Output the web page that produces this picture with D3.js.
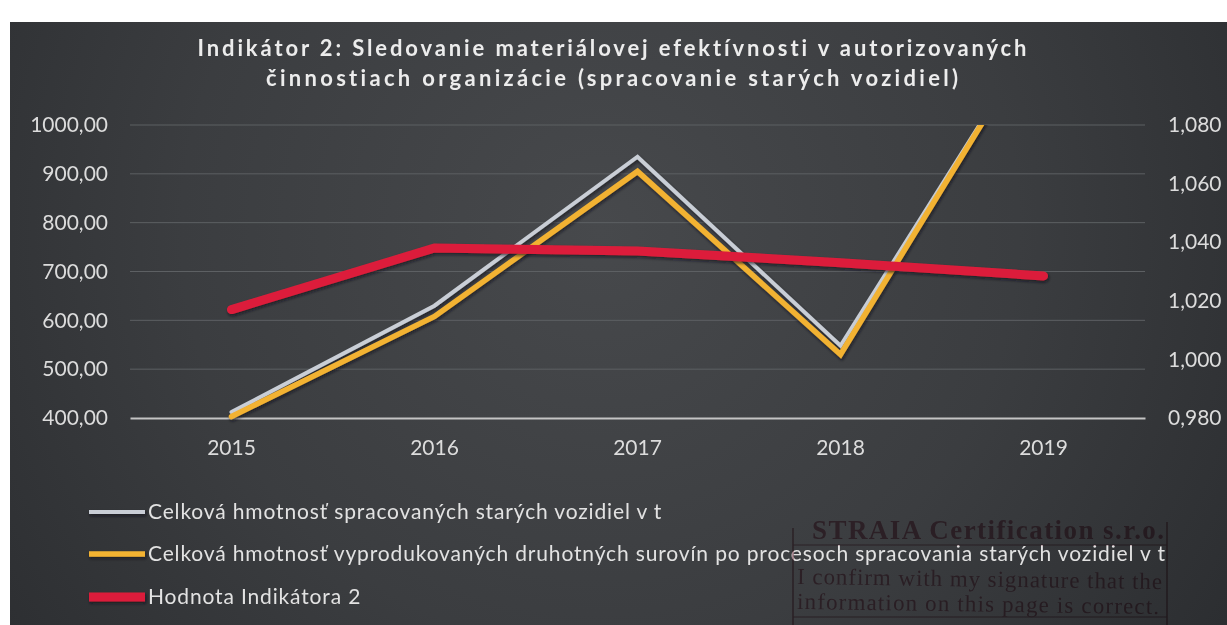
<!DOCTYPE html>
<html>
<head>
<meta charset="utf-8">
<script src="https://cdn.jsdelivr.net/npm/d3@7"></script>
<style>
  html, body { margin: 0; padding: 0; background: #ffffff; }
  svg { display: block; }
  text { font-variant-ligatures: none; font-feature-settings: "liga" 0; }
</style>
</head>
<body>
<svg id="chart" width="1227" height="625"></svg>
<script>
// Indicator 2 – material efficiency in authorised activities (end-of-life vehicles)
const years = ["2015", "2016", "2017", "2018", "2019"];
const processedVehicles = [412, 630, 935, 548, 1208];   // t, left axis
const secondaryMaterials = [403, 608, 905, 530, 1209];  // t, left axis
const indicatorValue = [1.017, 1.038, 1.037, 1.033, 1.0285]; // right axis

const leftTicks = [400, 500, 600, 700, 800, 900, 1000];
const rightTicks = [0.98, 1.00, 1.02, 1.04, 1.06, 1.08];

const titleLines = [
  "Indikátor 2: Sledovanie materiálovej efektívnosti v autorizovaných",
  "činnostiach organizácie (spracovanie starých vozidiel)"
];
const legendLabels = [
  "Celková hmotnosť spracovaných starých vozidiel v t",
  "Celková hmotnosť vyprodukovaných druhotných surovín po procesoch spracovania starých vozidiel v t",
  "Hodnota Indikátora 2"
];
const seriesColors = ["#c9ced6", "#f2b233", "#dc1f3a"];
const seriesWidths = [4, 5.5, 9];

const stampLines = [
  "STRAIA Certification s.r.o.",
  "I confirm with my signature that the",
  "information on this page is correct."
];

const svg = d3.select("#chart");
const W = 1227, H = 625;
const plot = { left: 130, right: 1145, top: 125, bottom: 418 };

const defs = svg.append("defs");
const bg = defs.append("radialGradient").attr("id", "bgGrad")
  .attr("gradientUnits", "userSpaceOnUse")
  .attr("cx", 600).attr("cy", 230).attr("r", 760);
bg.append("stop").attr("offset", "0%").attr("stop-color", "#47494c");
bg.append("stop").attr("offset", "55%").attr("stop-color", "#3b3d40");
bg.append("stop").attr("offset", "100%").attr("stop-color", "#2b2d30");

defs.append("clipPath").attr("id", "plotClip")
  .append("rect")
  .attr("x", plot.left - 10).attr("y", plot.top)
  .attr("width", plot.right - plot.left + 20).attr("height", plot.bottom - plot.top + 10);

// soft dark shadow under the series strokes (user-space region so flat lines keep it)
const shadow = defs.append("filter").attr("id", "lineShadow")
  .attr("filterUnits", "userSpaceOnUse")
  .attr("x", 0).attr("y", 0).attr("width", W).attr("height", H);
shadow.append("feDropShadow").attr("dx", 1).attr("dy", 2).attr("stdDeviation", 1.5)
  .attr("flood-color", "#10141c").attr("flood-opacity", 0.7);

// page background
svg.append("rect").attr("x", 10).attr("y", 22).attr("width", W - 10).attr("height", H - 22)
  .attr("fill", "url(#bgGrad)");

// title
const titleWidths = [829, 692];
const title = svg.append("g").attr("font-family", "Lato, 'Open Sans', sans-serif")
  .attr("font-weight", 700).attr("font-size", 22).attr("fill", "#ececec")
  .attr("text-anchor", "middle");
title.selectAll("text").data(titleLines).join("text")
  .attr("x", 612).attr("y", (d, i) => 56 + i * 30)
  .attr("textLength", (d, i) => titleWidths[i])
  .attr("lengthAdjust", "spacing")
  .text(d => d);

// scales
const x = d3.scaleBand().domain(years).range([plot.left, plot.right]).padding(0);
const yL = d3.scaleLinear().domain([400, 1000]).range([plot.bottom, plot.top]);
const yR = d3.scaleLinear().domain([0.98, 1.08]).range([plot.bottom, plot.top]);
const cx = d => x(d) + x.bandwidth() / 2;

const locale = d3.formatLocale({ decimal: ",", thousands: "", grouping: [3], currency: ["", ""] });
const fmtL = locale.format(".2f");
const fmtR = locale.format(".3f");

// gridlines
svg.append("g").selectAll("line").data(leftTicks.filter(t => t !== 400)).join("line")
  .attr("x1", plot.left).attr("x2", plot.right)
  .attr("y1", d => yL(d)).attr("y2", d => yL(d))
  .attr("stroke", "#5d6063").attr("stroke-width", 1);

// left axis
const axL = svg.append("g").attr("transform", `translate(${plot.left - 22},0)`)
  .call(d3.axisLeft(yL).tickValues(leftTicks).tickFormat(fmtL).tickSize(0).tickPadding(0));
axL.select(".domain").remove();
axL.selectAll("text").attr("font-family", "Lato, sans-serif").attr("font-size", 21)
  .attr("fill", "#dcdcdc");

// right axis
const axR = svg.append("g").attr("transform", `translate(${plot.right + 23},0)`)
  .call(d3.axisRight(yR).tickValues(rightTicks).tickFormat(fmtR).tickSize(0).tickPadding(0));
axR.select(".domain").remove();
axR.selectAll("text").attr("font-family", "Lato, sans-serif").attr("font-size", 21)
  .attr("fill", "#dcdcdc");

// category axis
const axX = svg.append("g").attr("transform", `translate(0,${plot.bottom})`)
  .call(d3.axisBottom(x).tickSize(0).tickPadding(22));
axX.select(".domain").attr("stroke", "#c4c4c4").attr("stroke-width", 2);
axX.selectAll("text").attr("font-family", "Lato, sans-serif").attr("font-size", 21)
  .attr("fill", "#dcdcdc");

// series lines
const lines = svg.append("g").attr("clip-path", "url(#plotClip)");
const lineL = d3.line().x((d, i) => cx(years[i])).y(d => yL(d));
const lineR = d3.line().x((d, i) => cx(years[i])).y(d => yR(d));
const series = [
  { values: processedVehicles, gen: lineL },
  { values: secondaryMaterials, gen: lineL },
  { values: indicatorValue, gen: lineR }
];
series.forEach((s, i) => {
  lines.append("path").datum(s.values)
    .attr("d", s.gen)
    .attr("fill", "none")
    .attr("stroke", seriesColors[i])
    .attr("stroke-width", seriesWidths[i])
    .attr("stroke-linejoin", "miter")
    .attr("stroke-linecap", "round")
    .attr("filter", "url(#lineShadow)");
});

// legend
const legend = svg.append("g").attr("font-family", "Lato, sans-serif").attr("font-size", 21)
  .attr("letter-spacing", 0.85).attr("fill", "#e2e2e2");
const legendY = [512, 554, 597];
legendLabels.forEach((label, i) => {
  legend.append("line")
    .attr("x1", 89).attr("x2", 145)
    .attr("y1", legendY[i]).attr("y2", legendY[i])
    .attr("stroke", seriesColors[i]).attr("stroke-width", seriesWidths[i])
    .attr("filter", "url(#lineShadow)");
  legend.append("text").attr("x", 148).attr("y", legendY[i]).attr("dy", "0.35em").text(label);
});

// certification stamp, printed over the lower right corner
const stamp = svg.append("g").attr("opacity", 0.6).style("mix-blend-mode", "multiply")
  .attr("fill", "#8a2d4a").attr("stroke", "#7a2a40");
stamp.append("line").attr("x1", 793).attr("x2", 793).attr("y1", 528).attr("y2", 625).attr("stroke-width", 1.5);
stamp.append("line").attr("x1", 1167).attr("x2", 1167).attr("y1", 522).attr("y2", 625).attr("stroke-width", 1.5);
stamp.append("line").attr("x1", 793).attr("x2", 1167).attr("y1", 545).attr("y2", 545).attr("stroke-width", 1.2);
stamp.append("line").attr("x1", 793).attr("x2", 1167).attr("y1", 617).attr("y2", 617).attr("stroke-width", 1.2);
stamp.append("text").attr("x", 812).attr("y", 539)
  .attr("stroke", "none").attr("font-family", "'Liberation Serif', serif")
  .attr("font-weight", 700).attr("font-size", 27)
  .attr("textLength", 352).attr("lengthAdjust", "spacing")
  .text(stampLines[0]);
stamp.append("text").attr("x", 797).attr("y", 584)
  .attr("stroke", "none").attr("font-family", "'Liberation Serif', serif")
  .attr("font-size", 23).attr("textLength", 365).attr("lengthAdjust", "spacing")
  .attr("transform", "rotate(0.8 797 584)")
  .text(stampLines[1]);
stamp.append("text").attr("x", 797).attr("y", 609)
  .attr("stroke", "none").attr("font-family", "'Liberation Serif', serif")
  .attr("font-size", 23).attr("textLength", 362).attr("lengthAdjust", "spacing")
  .attr("transform", "rotate(0.8 797 609)")
  .text(stampLines[2]);
</script>
</body>
</html>
